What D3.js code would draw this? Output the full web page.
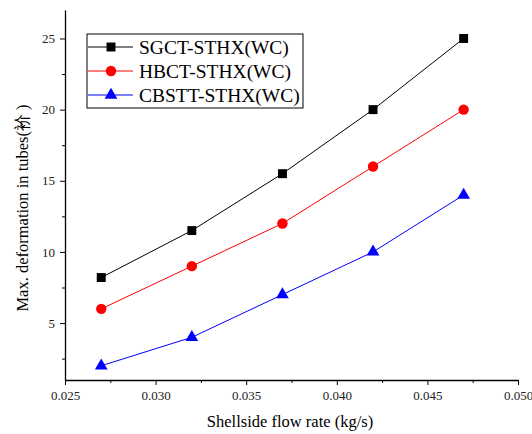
<!DOCTYPE html>
<html>
<head>
<meta charset="utf-8">
<script src="https://cdn.jsdelivr.net/npm/d3@7"></script>
<style>
body { margin: 0; background: #fff; }
</style>
</head>
<body>
<div id="chart"></div>
<script>
var flowRate = [0.027, 0.032, 0.037, 0.042, 0.047];
var sgct = [8.2, 11.5, 15.5, 20, 25];
var hbct = [6, 9, 12, 16, 20];
var cbstt = [2, 4, 7, 10, 14];
var seriesNames = ["SGCT-STHX(WC)", "HBCT-STHX(WC)", "CBSTT-STHX(WC)"];
var xTicks = [0.025, 0.030, 0.035, 0.040, 0.045, 0.050];
var yTicks = [5, 10, 15, 20, 25];

var width = 532, height = 434;
var plotLeft = 65, plotRight = 518, plotTop = 10, plotBottom = 380;
var serif = "'Liberation Serif', 'Times New Roman', Times, serif";

var svg = d3.select("#chart").append("svg")
  .attr("width", width)
  .attr("height", height);

var xScale = d3.scaleLinear().domain([0.025, 0.050]).range([plotLeft, plotRight]);
var yScale = d3.scaleLinear().domain([1, 27]).range([plotBottom, plotTop]);

// minor ticks
var xMinor = d3.range(0.0275, 0.050, 0.005);
var yMinor = d3.range(2.5, 27, 5);

svg.append("g")
  .attr("transform", "translate(0," + plotBottom + ")")
  .call(d3.axisBottom(xScale).tickValues(xMinor).tickSize(3).tickFormat("").tickSizeOuter(0))
  .call(function(g) { g.select(".domain").remove(); });
svg.append("g")
  .attr("transform", "translate(" + plotLeft + ",0)")
  .call(d3.axisLeft(yScale).tickValues(yMinor).tickSize(3).tickFormat("").tickSizeOuter(0))
  .call(function(g) { g.select(".domain").remove(); });

// major axes
svg.append("g")
  .attr("transform", "translate(0," + plotBottom + ")")
  .call(d3.axisBottom(xScale).tickValues(xTicks).tickSize(5).tickSizeOuter(0).tickPadding(6)
    .tickFormat(d3.format(".3f")));
svg.append("g")
  .attr("transform", "translate(" + plotLeft + ",0)")
  .call(d3.axisLeft(yScale).tickValues(yTicks).tickSize(5).tickSizeOuter(0).tickPadding(5));

svg.selectAll(".domain").attr("stroke", "#000").attr("stroke-width", 1.3);
svg.selectAll(".tick line").attr("stroke", "#000").attr("stroke-width", 1);
svg.selectAll(".tick text")
  .attr("font-family", serif)
  .attr("font-size", 13)
  .attr("fill", "#222");

// axis labels
svg.append("text")
  .attr("x", 290).attr("y", 427)
  .attr("text-anchor", "middle")
  .attr("font-family", serif)
  .attr("font-size", 16.5)
  .text("Shellside flow rate (kg/s)");

svg.append("text")
  .attr("transform", "translate(28,208) rotate(-90)")
  .attr("text-anchor", "middle")
  .attr("font-family", serif)
  .attr("font-size", 16.5)
  .text("Max. deformation in tubes(衸 )");

var series = [
  { name: seriesNames[0], values: sgct, color: "#000", shape: d3.symbolSquare, size: 80 },
  { name: seriesNames[1], values: hbct, color: "#ff0000", shape: d3.symbolCircle, size: 85 },
  { name: seriesNames[2], values: cbstt, color: "#0000ff", shape: d3.symbolTriangle, size: 70 }
];

var line = d3.line()
  .x(function(d, i) { return xScale(flowRate[i]); })
  .y(function(d) { return yScale(d); });

series.forEach(function(s) {
  svg.append("path")
    .datum(s.values)
    .attr("fill", "none")
    .attr("stroke", s.color)
    .attr("stroke-width", 1)
    .attr("d", line);

  svg.selectAll(null)
    .data(s.values)
    .enter().append("path")
    .attr("d", d3.symbol().type(s.shape).size(s.size))
    .attr("fill", s.color)
    .attr("transform", function(d, i) {
      return "translate(" + xScale(flowRate[i]) + "," + yScale(d) + ")";
    });
});

// legend
var legend = svg.append("g");
legend.append("rect")
  .attr("x", 87).attr("y", 34)
  .attr("width", 216).attr("height", 74)
  .attr("fill", "#fff")
  .attr("stroke", "#000")
  .attr("stroke-width", 1);

series.forEach(function(s, i) {
  var y = 47 + i * 24;
  legend.append("line")
    .attr("x1", 88).attr("x2", 133)
    .attr("y1", y).attr("y2", y)
    .attr("stroke", s.color).attr("stroke-width", 1);
  legend.append("path")
    .attr("d", d3.symbol().type(s.shape).size(s.size))
    .attr("fill", s.color)
    .attr("transform", "translate(111," + y + ")");
  legend.append("text")
    .attr("x", 139).attr("y", y + 6.5)
    .attr("font-family", serif)
    .attr("font-size", 19.5)
    .text(s.name);
});
</script>
</body>
</html>
